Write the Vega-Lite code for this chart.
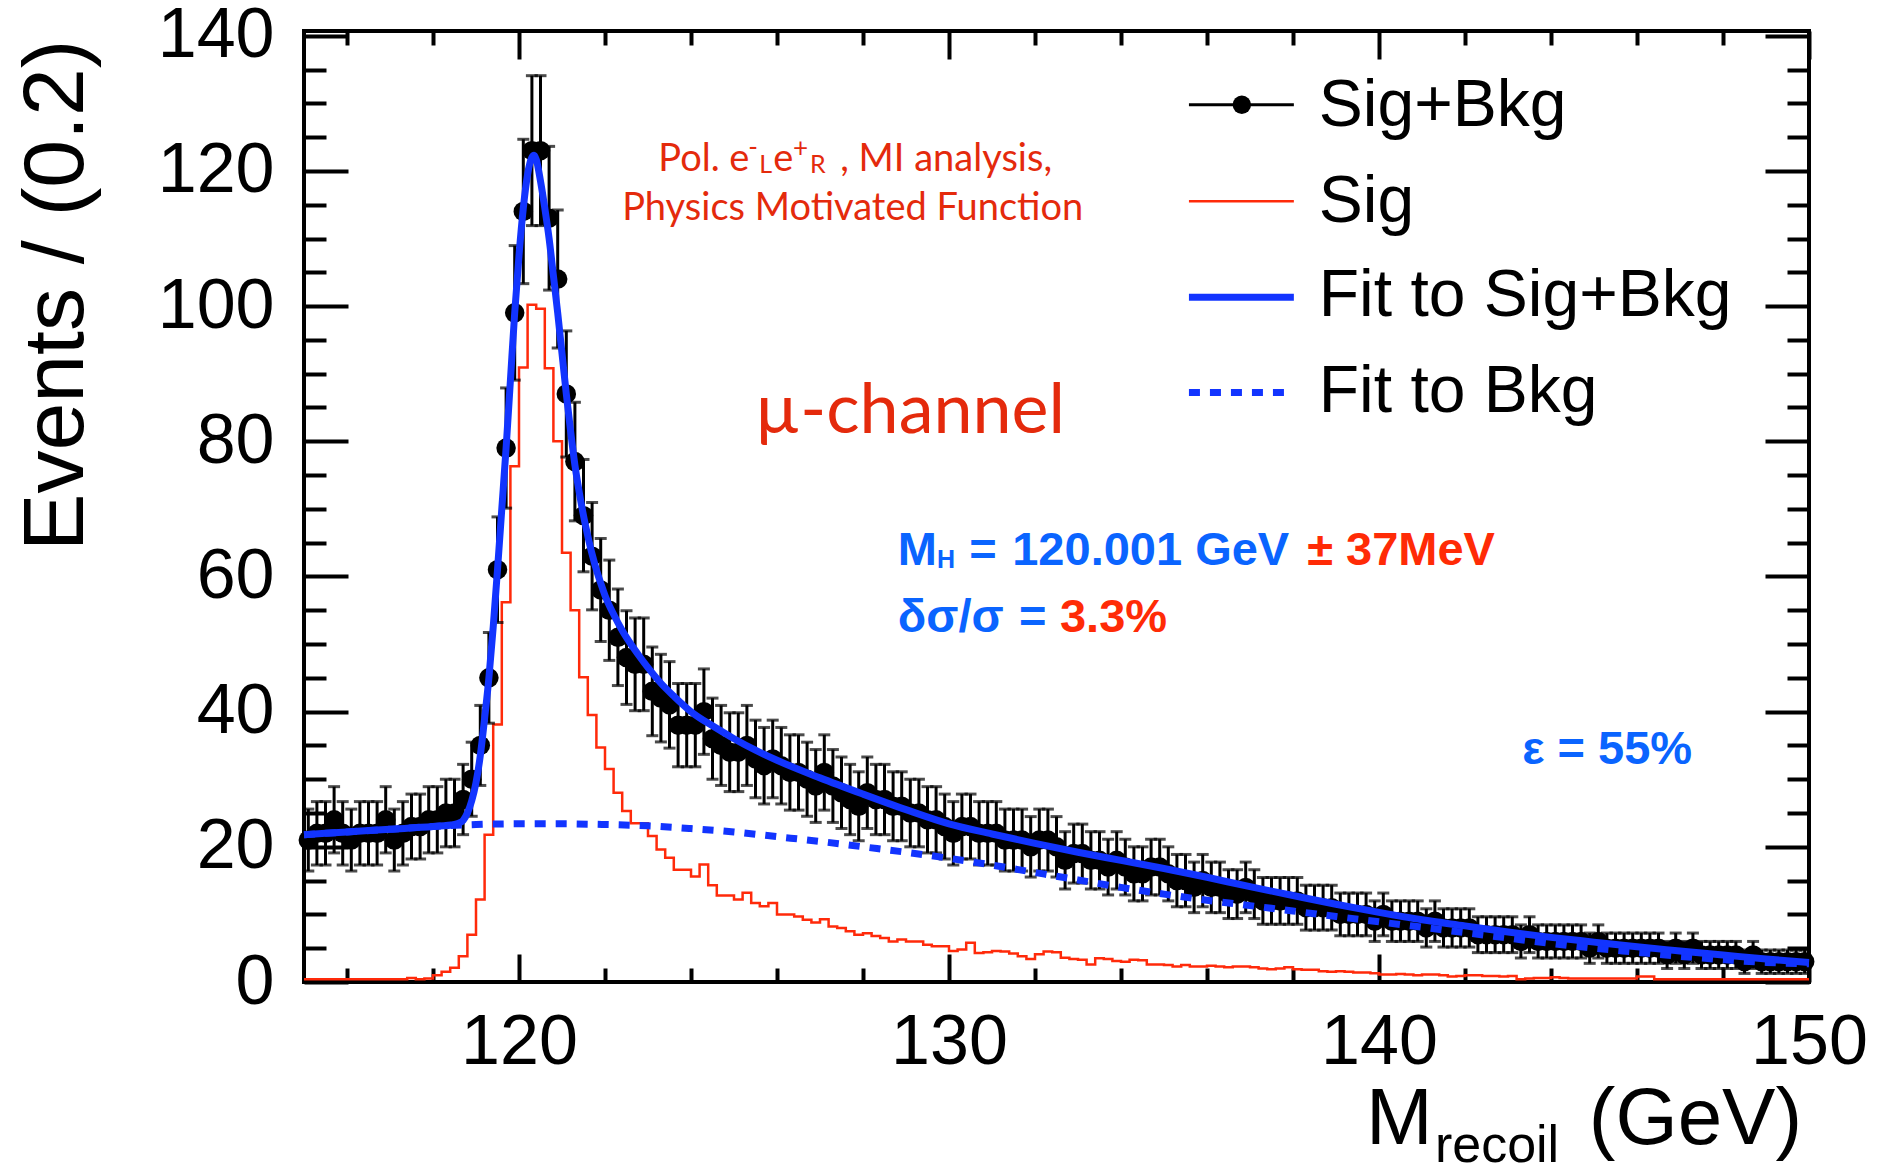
{
  "$schema": "https://vega.github.io/schema/vega-lite/v6.json",
  "width": 1505,
  "height": 951,
  "autosize": {"type": "none"},
  "padding": {"left": 304, "top": 31, "right": 78, "bottom": 186},
  "background": "#ffffff",
  "config": {
    "view": {"stroke": "#000000", "strokeWidth": 4},
    "axis": {
      "grid": false, "domain": false, "ticks": true,
      "tickColor": "#000000", "tickWidth": 4, "tickCap": "butt",
      "labelFont": "Liberation Sans", "labelColor": "#000000",
      "titleFont": "Liberation Sans", "titleColor": "#000000",
      "labelFlush": false, "labelOverlap": false, "labelBound": false
    },
    "text": {"font": "Liberation Sans"}
  },
  "resolve": {"axis": {"x": "independent", "y": "independent"}},
  "datasets": {
    "points": [
      {"m":115.1,"n":21,"e":4.58},{"m":115.3,"n":22,"e":4.69},{"m":115.5,"n":22,"e":4.69},{"m":115.7,"n":24,"e":4.9},{"m":115.9,"n":22,"e":4.69},
      {"m":116.1,"n":21,"e":4.58},{"m":116.3,"n":22,"e":4.69},{"m":116.5,"n":22,"e":4.69},{"m":116.7,"n":22,"e":4.69},{"m":116.9,"n":24,"e":4.9},
      {"m":117.1,"n":21,"e":4.58},{"m":117.3,"n":22,"e":4.69},{"m":117.5,"n":23,"e":4.8},{"m":117.7,"n":23,"e":4.8},{"m":117.9,"n":24,"e":4.9},
      {"m":118.1,"n":24,"e":4.9},{"m":118.3,"n":25,"e":5},{"m":118.5,"n":25,"e":5},{"m":118.7,"n":27,"e":5.2},{"m":118.9,"n":30,"e":5.48},
      {"m":119.1,"n":35,"e":5.92},{"m":119.3,"n":45,"e":6.71},{"m":119.5,"n":61,"e":7.81},{"m":119.7,"n":79,"e":8.89},{"m":119.9,"n":99,"e":9.95},
      {"m":120.1,"n":114,"e":10.68},{"m":120.3,"n":123,"e":11.09},{"m":120.5,"n":123,"e":11.09},{"m":120.7,"n":113,"e":10.63},{"m":120.9,"n":104,"e":10.2},
      {"m":121.1,"n":87,"e":9.33},{"m":121.3,"n":77,"e":8.77},{"m":121.5,"n":69,"e":8.31},{"m":121.7,"n":63,"e":7.94},{"m":121.9,"n":58,"e":7.62},
      {"m":122.1,"n":55,"e":7.42},{"m":122.3,"n":51,"e":7.14},{"m":122.5,"n":48,"e":6.93},{"m":122.7,"n":47,"e":6.86},{"m":122.9,"n":47,"e":6.86},
      {"m":123.1,"n":43,"e":6.56},{"m":123.3,"n":42,"e":6.48},{"m":123.5,"n":41,"e":6.4},{"m":123.7,"n":38,"e":6.16},{"m":123.9,"n":38,"e":6.16},
      {"m":124.1,"n":38,"e":6.16},{"m":124.3,"n":40,"e":6.32},{"m":124.5,"n":36,"e":6},{"m":124.7,"n":35,"e":5.92},{"m":124.9,"n":34,"e":5.83},
      {"m":125.1,"n":34,"e":5.83},{"m":125.3,"n":35,"e":5.92},{"m":125.5,"n":33,"e":5.74},{"m":125.7,"n":32,"e":5.66},{"m":125.9,"n":33,"e":5.74},
      {"m":126.1,"n":32,"e":5.66},{"m":126.3,"n":31,"e":5.57},{"m":126.5,"n":31,"e":5.57},{"m":126.7,"n":30,"e":5.48},{"m":126.9,"n":29,"e":5.39},
      {"m":127.1,"n":31,"e":5.57},{"m":127.3,"n":29,"e":5.39},{"m":127.5,"n":28,"e":5.29},{"m":127.7,"n":27,"e":5.2},{"m":127.9,"n":26,"e":5.1},
      {"m":128.1,"n":28,"e":5.29},{"m":128.3,"n":27,"e":5.2},{"m":128.5,"n":27,"e":5.2},{"m":128.7,"n":26,"e":5.1},{"m":128.9,"n":26,"e":5.1},
      {"m":129.1,"n":25,"e":5},{"m":129.3,"n":25,"e":5},{"m":129.5,"n":24,"e":4.9},{"m":129.7,"n":24,"e":4.9},{"m":129.9,"n":23,"e":4.8},
      {"m":130.1,"n":22,"e":4.69},{"m":130.3,"n":23,"e":4.8},{"m":130.5,"n":23,"e":4.8},{"m":130.7,"n":22,"e":4.69},{"m":130.9,"n":22,"e":4.69},
      {"m":131.1,"n":22,"e":4.69},{"m":131.3,"n":21,"e":4.58},{"m":131.5,"n":21,"e":4.58},{"m":131.7,"n":21,"e":4.58},{"m":131.9,"n":20,"e":4.47},
      {"m":132.1,"n":21,"e":4.58},{"m":132.3,"n":21,"e":4.58},{"m":132.5,"n":20,"e":4.47},{"m":132.7,"n":18,"e":4.24},{"m":132.9,"n":19,"e":4.36},
      {"m":133.1,"n":19,"e":4.36},{"m":133.3,"n":18,"e":4.24},{"m":133.5,"n":18,"e":4.24},{"m":133.7,"n":17,"e":4.12},{"m":133.9,"n":18,"e":4.24},
      {"m":134.1,"n":17,"e":4.12},{"m":134.3,"n":16,"e":4},{"m":134.5,"n":16,"e":4},{"m":134.7,"n":17,"e":4.12},{"m":134.9,"n":17,"e":4.12},
      {"m":135.1,"n":16,"e":4},{"m":135.3,"n":15,"e":3.87},{"m":135.5,"n":15,"e":3.87},{"m":135.7,"n":14,"e":3.74},{"m":135.9,"n":15,"e":3.87},
      {"m":136.1,"n":14,"e":3.74},{"m":136.3,"n":14,"e":3.74},{"m":136.5,"n":13,"e":3.61},{"m":136.7,"n":13,"e":3.61},{"m":136.9,"n":14,"e":3.74},
      {"m":137.1,"n":13,"e":3.61},{"m":137.3,"n":12,"e":3.46},{"m":137.5,"n":12,"e":3.46},{"m":137.7,"n":12,"e":3.46},{"m":137.9,"n":12,"e":3.46},
      {"m":138.1,"n":12,"e":3.46},{"m":138.3,"n":11,"e":3.32},{"m":138.5,"n":11,"e":3.32},{"m":138.7,"n":11,"e":3.32},{"m":138.9,"n":11,"e":3.32},
      {"m":139.1,"n":10,"e":3.16},{"m":139.3,"n":10,"e":3.16},{"m":139.5,"n":10,"e":3.16},{"m":139.7,"n":10,"e":3.16},{"m":139.9,"n":9,"e":3},
      {"m":140.1,"n":10,"e":3.16},{"m":140.3,"n":9,"e":3},{"m":140.5,"n":9,"e":3},{"m":140.7,"n":9,"e":3},{"m":140.9,"n":9,"e":3},
      {"m":141.1,"n":8,"e":2.83},{"m":141.3,"n":9,"e":3},{"m":141.5,"n":8,"e":2.83},{"m":141.7,"n":8,"e":2.83},{"m":141.9,"n":8,"e":2.83},
      {"m":142.1,"n":8,"e":2.83},{"m":142.3,"n":7,"e":2.65},{"m":142.5,"n":7,"e":2.65},{"m":142.7,"n":7,"e":2.65},{"m":142.9,"n":7,"e":2.65},
      {"m":143.1,"n":7,"e":2.65},{"m":143.3,"n":6,"e":2.45},{"m":143.5,"n":7,"e":2.65},{"m":143.7,"n":6,"e":2.45},{"m":143.9,"n":6,"e":2.45},
      {"m":144.1,"n":6,"e":2.45},{"m":144.3,"n":6,"e":2.45},{"m":144.5,"n":6,"e":2.45},{"m":144.7,"n":6,"e":2.45},{"m":144.9,"n":5,"e":2.24},
      {"m":145.1,"n":6,"e":2.45},{"m":145.3,"n":5,"e":2.24},{"m":145.5,"n":5,"e":2.24},{"m":145.7,"n":5,"e":2.24},{"m":145.9,"n":5,"e":2.24},
      {"m":146.1,"n":5,"e":2.24},{"m":146.3,"n":5,"e":2.24},{"m":146.5,"n":5,"e":2.24},{"m":146.7,"n":4,"e":2},{"m":146.9,"n":5,"e":2.24},
      {"m":147.1,"n":4,"e":2},{"m":147.3,"n":5,"e":2.24},{"m":147.5,"n":4,"e":2},{"m":147.7,"n":4,"e":2},{"m":147.9,"n":4,"e":2},
      {"m":148.1,"n":4,"e":2},{"m":148.3,"n":4,"e":2},{"m":148.5,"n":3,"e":1.73},{"m":148.7,"n":4,"e":2},{"m":148.9,"n":3,"e":1.73},
      {"m":149.1,"n":3,"e":1.73},{"m":149.3,"n":3,"e":1.73},{"m":149.5,"n":3,"e":1.73},{"m":149.7,"n":3,"e":1.73},{"m":149.9,"n":3,"e":1.73}
    ],
    "signal": [
      {"m":115.0,"s":0.4},{"m":115.2,"s":0.4},{"m":115.4,"s":0.4},{"m":115.6,"s":0.4},{"m":115.8,"s":0.4},
      {"m":116.0,"s":0.4},{"m":116.2,"s":0.4},{"m":116.4,"s":0.4},{"m":116.6,"s":0.4},{"m":116.8,"s":0.4},
      {"m":117.0,"s":0.4},{"m":117.2,"s":0.4},{"m":117.4,"s":0.6},{"m":117.6,"s":0.4},{"m":117.8,"s":0.5},
      {"m":118.0,"s":1.0},{"m":118.2,"s":1.5},{"m":118.4,"s":2.1},{"m":118.6,"s":3.8},{"m":118.8,"s":7.0},
      {"m":119.0,"s":12.2},{"m":119.2,"s":21.8},{"m":119.4,"s":38.1},{"m":119.6,"s":56.2},{"m":119.8,"s":76.3},
      {"m":120.0,"s":90.9},{"m":120.2,"s":100.2},{"m":120.4,"s":99.6},{"m":120.6,"s":90.8},{"m":120.8,"s":80.0},
      {"m":121.0,"s":63.5},{"m":121.2,"s":55.0},{"m":121.4,"s":45.1},{"m":121.6,"s":39.5},{"m":121.8,"s":34.7},
      {"m":122.0,"s":31.5},{"m":122.2,"s":28.0},{"m":122.4,"s":25.3},{"m":122.6,"s":23.5},{"m":122.8,"s":23.5},
      {"m":123.0,"s":21.6},{"m":123.2,"s":19.6},{"m":123.4,"s":18.4},{"m":123.6,"s":16.6},{"m":123.8,"s":16.6},
      {"m":124.0,"s":15.6},{"m":124.2,"s":17.4},{"m":124.4,"s":14.3},{"m":124.6,"s":12.8},{"m":124.8,"s":12.8},
      {"m":125.0,"s":12.2},{"m":125.2,"s":13.2},{"m":125.4,"s":11.7},{"m":125.6,"s":11.2},{"m":125.8,"s":11.7},
      {"m":126.0,"s":10.0},{"m":126.2,"s":10.0},{"m":126.4,"s":9.7},{"m":126.6,"s":9.2},{"m":126.8,"s":8.8},
      {"m":127.0,"s":9.3},{"m":127.2,"s":8.2},{"m":127.4,"s":8.0},{"m":127.6,"s":7.5},{"m":127.8,"s":7.0},
      {"m":128.0,"s":7.2},{"m":128.2,"s":6.8},{"m":128.4,"s":6.5},{"m":128.6,"s":6.0},{"m":128.8,"s":6.3},
      {"m":129.0,"s":6.0},{"m":129.2,"s":6.0},{"m":129.4,"s":5.5},{"m":129.6,"s":5.3},{"m":129.8,"s":5.3},
      {"m":130.0,"s":4.6},{"m":130.2,"s":4.8},{"m":130.4,"s":5.8},{"m":130.6,"s":4.3},{"m":130.8,"s":4.4},
      {"m":131.0,"s":4.6},{"m":131.2,"s":4.5},{"m":131.4,"s":4.2},{"m":131.6,"s":3.8},{"m":131.8,"s":3.4},
      {"m":132.0,"s":4.1},{"m":132.2,"s":4.5},{"m":132.4,"s":4.4},{"m":132.6,"s":3.6},{"m":132.8,"s":3.4},
      {"m":133.0,"s":3.3},{"m":133.2,"s":2.6},{"m":133.4,"s":3.5},{"m":133.6,"s":3.4},{"m":133.8,"s":3.1},
      {"m":134.0,"s":3.0},{"m":134.2,"s":3.3},{"m":134.4,"s":3.2},{"m":134.6,"s":2.6},{"m":134.8,"s":2.6},
      {"m":135.0,"s":2.5},{"m":135.2,"s":2.3},{"m":135.4,"s":2.5},{"m":135.6,"s":2.3},{"m":135.8,"s":2.3},
      {"m":136.0,"s":2.4},{"m":136.2,"s":2.3},{"m":136.4,"s":2.2},{"m":136.6,"s":2.3},{"m":136.8,"s":2.3},
      {"m":137.0,"s":2.2},{"m":137.2,"s":2.0},{"m":137.4,"s":1.9},{"m":137.6,"s":2.0},{"m":137.8,"s":2.2},
      {"m":138.0,"s":1.9},{"m":138.2,"s":1.8},{"m":138.4,"s":1.8},{"m":138.6,"s":1.6},{"m":138.8,"s":1.5},
      {"m":139.0,"s":1.6},{"m":139.2,"s":1.5},{"m":139.4,"s":1.4},{"m":139.6,"s":1.4},{"m":139.8,"s":1.3},
      {"m":140.0,"s":1.1},{"m":140.2,"s":1.1},{"m":140.4,"s":1.2},{"m":140.6,"s":1.1},{"m":140.8,"s":1.0},
      {"m":141.0,"s":1.1},{"m":141.2,"s":1.1},{"m":141.4,"s":1.0},{"m":141.6,"s":0.8},{"m":141.8,"s":0.9},
      {"m":142.0,"s":1.0},{"m":142.2,"s":1.0},{"m":142.4,"s":0.9},{"m":142.6,"s":0.9},{"m":142.8,"s":0.8},
      {"m":143.0,"s":0.9},{"m":143.2,"s":0.4},{"m":143.4,"s":0.5},{"m":143.6,"s":0.6},{"m":143.8,"s":0.6},
      {"m":144.0,"s":0.7},{"m":144.2,"s":0.6},{"m":144.4,"s":0.5},{"m":144.6,"s":0.5},{"m":144.8,"s":0.5},
      {"m":145.0,"s":0.5},{"m":145.2,"s":0.5},{"m":145.4,"s":0.5},{"m":145.6,"s":0.5},{"m":145.8,"s":0.5},
      {"m":146.0,"s":0.8},{"m":146.2,"s":0.8},{"m":146.4,"s":0.4},{"m":146.6,"s":0.4},{"m":146.8,"s":0.4},
      {"m":147.0,"s":0.4},{"m":147.2,"s":0.4},{"m":147.4,"s":0.4},{"m":147.6,"s":0.4},{"m":147.8,"s":0.4},
      {"m":148.0,"s":0.4},{"m":148.2,"s":0.4},{"m":148.4,"s":0.4},{"m":148.6,"s":0.4},{"m":148.8,"s":0.4},
      {"m":149.0,"s":0.4},{"m":149.2,"s":0.4},{"m":149.4,"s":0.4},{"m":149.6,"s":0.4},{"m":149.8,"s":0.4},
      {"m":150.0,"s":0.4}
    ],
    "fit": [
      {"m":115.0,"f":21.8},{"m":116.0,"f":22.2},{"m":117.0,"f":22.6},{"m":118.0,"f":23.0},{"m":118.5,"f":23.3},
      {"m":118.6,"f":23.5},{"m":118.7,"f":23.9},{"m":118.8,"f":25.0},{"m":118.9,"f":26.8},{"m":119.0,"f":29.5},
      {"m":119.1,"f":33.5},{"m":119.2,"f":39.0},{"m":119.3,"f":45.0},{"m":119.4,"f":52.5},{"m":119.5,"f":61.0},
      {"m":119.6,"f":70.0},{"m":119.7,"f":79.0},{"m":119.8,"f":89.0},{"m":119.9,"f":99.0},{"m":120.0,"f":107.5},
      {"m":120.1,"f":114.5},{"m":120.2,"f":119.5},{"m":120.3,"f":122.0},{"m":120.35,"f":122.3},{"m":120.4,"f":121.7},
      {"m":120.5,"f":118.5},{"m":120.6,"f":114.5},{"m":120.7,"f":110.0},{"m":120.8,"f":104.5},{"m":120.9,"f":99.0},
      {"m":121.0,"f":93.0},{"m":121.1,"f":87.0},{"m":121.2,"f":81.5},{"m":121.3,"f":76.5},{"m":121.4,"f":72.5},
      {"m":121.5,"f":69.0},{"m":121.6,"f":66.0},{"m":121.7,"f":63.3},{"m":121.8,"f":61.0},{"m":121.9,"f":59.0},
      {"m":122.0,"f":57.2},{"m":122.2,"f":54.4},{"m":122.4,"f":52.0},{"m":122.6,"f":50.0},{"m":122.8,"f":48.2},
      {"m":123.0,"f":46.5},{"m":123.3,"f":44.2},{"m":123.6,"f":42.3},{"m":124.0,"f":40.0},{"m":124.5,"f":37.9},
      {"m":125.0,"f":36.0},{"m":125.5,"f":34.3},{"m":126.0,"f":32.8},{"m":127.0,"f":30.2},{"m":128.0,"f":27.8},
      {"m":129.0,"f":25.5},{"m":130.0,"f":23.4},{"m":131.0,"f":21.9},{"m":132.0,"f":20.5},{"m":133.0,"f":19.2},
      {"m":134.0,"f":18.0},{"m":135.0,"f":16.8},{"m":136.0,"f":15.5},{"m":137.0,"f":14.1},{"m":138.0,"f":12.8},
      {"m":139.0,"f":11.5},{"m":140.0,"f":10.3},{"m":141.0,"f":9.2},{"m":142.0,"f":8.3},{"m":143.0,"f":7.4},
      {"m":144.0,"f":6.6},{"m":145.0,"f":5.9},{"m":146.0,"f":5.2},{"m":147.0,"f":4.6},{"m":148.0,"f":4.0},
      {"m":149.0,"f":3.4},{"m":150.0,"f":2.9}
    ],
    "bkg": [
      {"m":115.0,"b":21.8},{"m":116.0,"b":22.2},{"m":117.0,"b":22.6},{"m":118.0,"b":23.0},{"m":119.0,"b":23.3},
      {"m":120.0,"b":23.4},{"m":121.0,"b":23.4},{"m":122.0,"b":23.3},{"m":123.0,"b":23.1},{"m":124.0,"b":22.7},
      {"m":125.0,"b":22.2},{"m":126.0,"b":21.5},{"m":127.0,"b":20.8},{"m":128.0,"b":20.0},{"m":129.0,"b":19.2},
      {"m":130.0,"b":18.3},{"m":131.0,"b":17.3},{"m":132.0,"b":16.2},{"m":133.0,"b":15.1},{"m":134.0,"b":14.0},
      {"m":135.0,"b":13.0},{"m":136.0,"b":12.1},{"m":137.0,"b":11.3},{"m":138.0,"b":10.5},{"m":139.0,"b":9.7},
      {"m":140.0,"b":8.9},{"m":141.0,"b":8.1},{"m":142.0,"b":7.3},{"m":143.0,"b":6.5},{"m":144.0,"b":5.7},
      {"m":145.0,"b":5.0},{"m":146.0,"b":4.4},{"m":147.0,"b":3.8},{"m":148.0,"b":3.3},{"m":149.0,"b":2.9},
      {"m":150.0,"b":2.7}
    ]
  },
  "layer": [
    {
      "data": {"name": "signal"},
      "mark": {"type": "line", "interpolate": "step-after", "color": "#ff2a0a", "strokeWidth": 2.5},
      "encoding": {
        "x": {"field": "m", "type": "quantitative",
          "scale": {"domain": [115, 150], "nice": false, "zero": false},
          "axis": {"orient": "bottom", "values": [120, 130, 140, 150], "format": "d", "tickSize": -28,
            "labelFontSize": 70, "labelPadding": 54, "title": null}},
        "y": {"field": "s", "type": "quantitative",
          "scale": {"domain": [0, 140.7], "nice": false, "zero": false},
          "axis": {"orient": "left", "values": [0, 20, 40, 60, 80, 100, 120, 140], "format": "d", "tickSize": -44,
            "labelFontSize": 70, "labelPadding": 74,
            "title": "Events / (0.2)", "titleFontSize": 86, "titleFontWeight": "normal",
            "titleAngle": 270, "titleAlign": "right", "titleBaseline": "top", "titleX": -290, "titleY": 8}}
      }
    },
    {
      "data": {"name": "points"},
      "mark": {"type": "errorbar", "color": "#000000", "thickness": 3,
        "ticks": {"size": 12, "thickness": 3, "color": "#000000"},
        "rule": {"strokeWidth": 3, "color": "#000000"}},
      "encoding": {
        "x": {"field": "m", "type": "quantitative", "axis": null},
        "y": {"field": "n", "type": "quantitative", "axis": null},
        "yError": {"field": "e"}
      }
    },
    {
      "data": {"name": "points"},
      "mark": {"type": "point", "filled": true, "color": "#000000", "opacity": 1, "size": 380},
      "encoding": {
        "x": {"field": "m", "type": "quantitative",
          "axis": {"orient": "top", "values": [120, 130, 140, 150], "tickSize": -28, "labels": false, "title": null}},
        "y": {"field": "n", "type": "quantitative",
          "axis": {"orient": "right", "values": [0, 20, 40, 60, 80, 100, 120, 140], "tickSize": -44, "labels": false, "title": null}}
      }
    },
    {
      "data": {"name": "bkg"},
      "mark": {"type": "line", "interpolate": "monotone", "color": "#1234ff", "strokeWidth": 7, "strokeDash": [11, 10], "strokeCap": "butt"},
      "encoding": {
        "x": {"field": "m", "type": "quantitative",
          "axis": {"orient": "bottom", "values": [116, 118, 122, 124, 126, 128, 132, 134, 136, 138, 142, 144, 146, 148], "tickSize": -14, "labels": false, "title": null}},
        "y": {"field": "b", "type": "quantitative",
          "axis": {"orient": "left", "values": [5, 10, 15, 25, 30, 35, 45, 50, 55, 65, 70, 75, 85, 90, 95, 105, 110, 115, 125, 130, 135], "tickSize": -22, "labels": false, "title": null}}
      }
    },
    {
      "data": {"name": "fit"},
      "mark": {"type": "line", "interpolate": "monotone", "color": "#1234ff", "strokeWidth": 7},
      "encoding": {
        "x": {"field": "m", "type": "quantitative",
          "axis": {"orient": "top", "values": [116, 118, 122, 124, 126, 128, 132, 134, 136, 138, 142, 144, 146, 148], "tickSize": -14, "labels": false, "title": null}},
        "y": {"field": "f", "type": "quantitative",
          "axis": {"orient": "right", "values": [5, 10, 15, 25, 30, 35, 45, 50, 55, 65, 70, 75, 85, 90, 95, 105, 110, 115, 125, 130, 135], "tickSize": -22, "labels": false, "title": null}}
      }
    },
    {
      "data": {"values": [{"k": "Sig+Bkg"}]},
      "mark": {"type": "rule", "color": "#000000", "strokeWidth": 3},
      "encoding": {
        "x": {"datum": 135.58, "type": "quantitative", "axis": null},
        "x2": {"datum": 138.02},
        "y": {"datum": 129.8, "type": "quantitative", "axis": null}
      }
    },
    {
      "data": {"values": [{"k": "Sig+Bkg"}]},
      "mark": {"type": "point", "filled": true, "color": "#000000", "opacity": 1, "size": 340},
      "encoding": {
        "x": {"datum": 136.81, "type": "quantitative", "axis": null},
        "y": {"datum": 129.8, "type": "quantitative", "axis": null}
      }
    },
    {
      "data": {"values": [{"k": "Sig"}]},
      "mark": {"type": "rule", "color": "#ff2a0a", "strokeWidth": 2.5},
      "encoding": {
        "x": {"datum": 135.58, "type": "quantitative", "axis": null},
        "x2": {"datum": 138.02},
        "y": {"datum": 115.5, "type": "quantitative", "axis": null}
      }
    },
    {
      "data": {"values": [{"k": "Fit to Sig+Bkg"}]},
      "mark": {"type": "rule", "color": "#1234ff", "strokeWidth": 7},
      "encoding": {
        "x": {"datum": 135.58, "type": "quantitative", "axis": null},
        "x2": {"datum": 138.02},
        "y": {"datum": 101.3, "type": "quantitative", "axis": null}
      }
    },
    {
      "data": {"values": [{"k": "Fit to Bkg"}]},
      "mark": {"type": "rule", "color": "#1234ff", "strokeWidth": 7, "strokeDash": [11, 10], "strokeCap": "butt"},
      "encoding": {
        "x": {"datum": 135.58, "type": "quantitative", "axis": null},
        "x2": {"datum": 137.85},
        "y": {"datum": 87.2, "type": "quantitative", "axis": null}
      }
    },
    {
      "data": {"values": [{"t": "Sig+Bkg"}]},
      "mark": {"type": "text", "align": "left", "baseline": "alphabetic", "fontSize": 66, "color": "#000000"},
      "encoding": {"x": {"datum": 138.6, "type": "quantitative", "axis": null}, "y": {"datum": 126.6, "type": "quantitative", "axis": null}, "text": {"field": "t"}}
    },
    {
      "data": {"values": [{"t": "Sig"}]},
      "mark": {"type": "text", "align": "left", "baseline": "alphabetic", "fontSize": 66, "color": "#000000"},
      "encoding": {"x": {"datum": 138.6, "type": "quantitative", "axis": null}, "y": {"datum": 112.5, "type": "quantitative", "axis": null}, "text": {"field": "t"}}
    },
    {
      "data": {"values": [{"t": "Fit to Sig+Bkg"}]},
      "mark": {"type": "text", "align": "left", "baseline": "alphabetic", "fontSize": 66, "color": "#000000"},
      "encoding": {"x": {"datum": 138.6, "type": "quantitative", "axis": null}, "y": {"datum": 98.5, "type": "quantitative", "axis": null}, "text": {"field": "t"}}
    },
    {
      "data": {"values": [{"t": "Fit to Bkg"}]},
      "mark": {"type": "text", "align": "left", "baseline": "alphabetic", "fontSize": 66, "color": "#000000"},
      "encoding": {"x": {"datum": 138.6, "type": "quantitative", "axis": null}, "y": {"datum": 84.4, "type": "quantitative", "axis": null}, "text": {"field": "t"}}
    },
    {
      "data": {"values": [{"t": "Pol. e"}]},
      "mark": {"type": "text", "align": "left", "baseline": "alphabetic", "font": "Lato", "fontSize": 38, "color": "#e42a0c"},
      "encoding": {"x": {"datum": 123.24, "type": "quantitative", "axis": null}, "y": {"datum": 119.94, "type": "quantitative", "axis": null}, "text": {"field": "t"}}
    },
    {
      "data": {"values": [{"t": "-"}]},
      "mark": {"type": "text", "align": "left", "baseline": "alphabetic", "font": "Lato", "fontSize": 26, "color": "#e42a0c"},
      "encoding": {"x": {"datum": 125.33, "type": "quantitative", "axis": null}, "y": {"datum": 122.26, "type": "quantitative", "axis": null}, "text": {"field": "t"}}
    },
    {
      "data": {"values": [{"t": "L"}]},
      "mark": {"type": "text", "align": "left", "baseline": "alphabetic", "font": "Lato", "fontSize": 25, "color": "#e42a0c"},
      "encoding": {"x": {"datum": 125.59, "type": "quantitative", "axis": null}, "y": {"datum": 119.7, "type": "quantitative", "axis": null}, "text": {"field": "t"}}
    },
    {
      "data": {"values": [{"t": "e"}]},
      "mark": {"type": "text", "align": "left", "baseline": "alphabetic", "font": "Lato", "fontSize": 38, "color": "#e42a0c"},
      "encoding": {"x": {"datum": 125.91, "type": "quantitative", "axis": null}, "y": {"datum": 119.94, "type": "quantitative", "axis": null}, "text": {"field": "t"}}
    },
    {
      "data": {"values": [{"t": "+"}]},
      "mark": {"type": "text", "align": "left", "baseline": "alphabetic", "font": "Lato", "fontSize": 26, "color": "#e42a0c"},
      "encoding": {"x": {"datum": 126.37, "type": "quantitative", "axis": null}, "y": {"datum": 122.1, "type": "quantitative", "axis": null}, "text": {"field": "t"}}
    },
    {
      "data": {"values": [{"t": "R"}]},
      "mark": {"type": "text", "align": "left", "baseline": "alphabetic", "font": "Lato", "fontSize": 25, "color": "#e42a0c"},
      "encoding": {"x": {"datum": 126.77, "type": "quantitative", "axis": null}, "y": {"datum": 119.7, "type": "quantitative", "axis": null}, "text": {"field": "t"}}
    },
    {
      "data": {"values": [{"t": ", MI analysis,"}]},
      "mark": {"type": "text", "align": "left", "baseline": "alphabetic", "font": "Lato", "fontSize": 38, "color": "#e42a0c"},
      "encoding": {"x": {"datum": 127.47, "type": "quantitative", "axis": null}, "y": {"datum": 119.94, "type": "quantitative", "axis": null}, "text": {"field": "t"}}
    },
    {
      "data": {"values": [{"t": "Physics Motivated Function"}]},
      "mark": {"type": "text", "align": "center", "baseline": "alphabetic", "font": "Lato", "fontSize": 38, "color": "#e42a0c"},
      "encoding": {"x": {"datum": 127.76, "type": "quantitative", "axis": null}, "y": {"datum": 112.8, "type": "quantitative", "axis": null}, "text": {"field": "t"}}
    },
    {
      "data": {"values": [{"t": "µ-channel"}]},
      "mark": {"type": "text", "align": "center", "baseline": "alphabetic", "font": "Lato", "fontSize": 70, "color": "#e42a0c"},
      "encoding": {"x": {"datum": 129.09, "type": "quantitative", "axis": null}, "y": {"datum": 81.24, "type": "quantitative", "axis": null}, "text": {"field": "t"}}
    },
    {
      "data": {"values": [{"t": "M"}]},
      "mark": {"type": "text", "align": "left", "baseline": "alphabetic", "fontSize": 47, "fontWeight": "bold", "color": "#0a64ff"},
      "encoding": {"x": {"datum": 128.81, "type": "quantitative", "axis": null}, "y": {"datum": 61.76, "type": "quantitative", "axis": null}, "text": {"field": "t"}}
    },
    {
      "data": {"values": [{"t": "H"}]},
      "mark": {"type": "text", "align": "left", "baseline": "alphabetic", "fontSize": 25, "fontWeight": "bold", "color": "#0a64ff"},
      "encoding": {"x": {"datum": 129.72, "type": "quantitative", "axis": null}, "y": {"datum": 61.27, "type": "quantitative", "axis": null}, "text": {"field": "t"}}
    },
    {
      "data": {"values": [{"t": "="}]},
      "mark": {"type": "text", "align": "left", "baseline": "alphabetic", "fontSize": 47, "fontWeight": "bold", "color": "#0a64ff"},
      "encoding": {"x": {"datum": 130.47, "type": "quantitative", "axis": null}, "y": {"datum": 61.76, "type": "quantitative", "axis": null}, "text": {"field": "t"}}
    },
    {
      "data": {"values": [{"t": "120.001 GeV"}]},
      "mark": {"type": "text", "align": "left", "baseline": "alphabetic", "fontSize": 47, "fontWeight": "bold", "color": "#0a64ff"},
      "encoding": {"x": {"datum": 131.47, "type": "quantitative", "axis": null}, "y": {"datum": 61.76, "type": "quantitative", "axis": null}, "text": {"field": "t"}}
    },
    {
      "data": {"values": [{"t": "± 37MeV"}]},
      "mark": {"type": "text", "align": "left", "baseline": "alphabetic", "fontSize": 47, "fontWeight": "bold", "color": "#ff2b06"},
      "encoding": {"x": {"datum": 138.33, "type": "quantitative", "axis": null}, "y": {"datum": 61.76, "type": "quantitative", "axis": null}, "text": {"field": "t"}}
    },
    {
      "data": {"values": [{"t": "δσ/σ"}]},
      "mark": {"type": "text", "align": "left", "baseline": "alphabetic", "fontSize": 47, "fontWeight": "bold", "color": "#0a64ff"},
      "encoding": {"x": {"datum": 128.81, "type": "quantitative", "axis": null}, "y": {"datum": 51.85, "type": "quantitative", "axis": null}, "text": {"field": "t"}}
    },
    {
      "data": {"values": [{"t": "="}]},
      "mark": {"type": "text", "align": "left", "baseline": "alphabetic", "fontSize": 47, "fontWeight": "bold", "color": "#0a64ff"},
      "encoding": {"x": {"datum": 131.63, "type": "quantitative", "axis": null}, "y": {"datum": 51.85, "type": "quantitative", "axis": null}, "text": {"field": "t"}}
    },
    {
      "data": {"values": [{"t": "3.3%"}]},
      "mark": {"type": "text", "align": "left", "baseline": "alphabetic", "fontSize": 47, "fontWeight": "bold", "color": "#ff2b06"},
      "encoding": {"x": {"datum": 132.58, "type": "quantitative", "axis": null}, "y": {"datum": 51.85, "type": "quantitative", "axis": null}, "text": {"field": "t"}}
    },
    {
      "data": {"values": [{"t": "ε = 55%"}]},
      "mark": {"type": "text", "align": "left", "baseline": "alphabetic", "fontSize": 47, "fontWeight": "bold", "color": "#0a64ff"},
      "encoding": {"x": {"datum": 143.33, "type": "quantitative", "axis": null}, "y": {"datum": 32.18, "type": "quantitative", "axis": null}, "text": {"field": "t"}}
    },
    {
      "data": {"values": [{"t": "M"}]},
      "mark": {"type": "text", "align": "left", "baseline": "alphabetic", "fontSize": 80, "color": "#000000"},
      "encoding": {"x": {"datum": 139.7, "type": "quantitative", "axis": null}, "y": {"datum": -24.0, "type": "quantitative", "axis": null}, "text": {"field": "t"}}
    },
    {
      "data": {"values": [{"t": "recoil"}]},
      "mark": {"type": "text", "align": "left", "baseline": "alphabetic", "fontSize": 52, "color": "#000000"},
      "encoding": {"x": {"datum": 141.3, "type": "quantitative", "axis": null}, "y": {"datum": -26.7, "type": "quantitative", "axis": null}, "text": {"field": "t"}}
    },
    {
      "data": {"values": [{"t": "(GeV)"}]},
      "mark": {"type": "text", "align": "right", "baseline": "alphabetic", "fontSize": 80, "color": "#000000"},
      "encoding": {"x": {"datum": 149.84, "type": "quantitative", "axis": null}, "y": {"datum": -24.0, "type": "quantitative", "axis": null}, "text": {"field": "t"}}
    }
  ]
}
